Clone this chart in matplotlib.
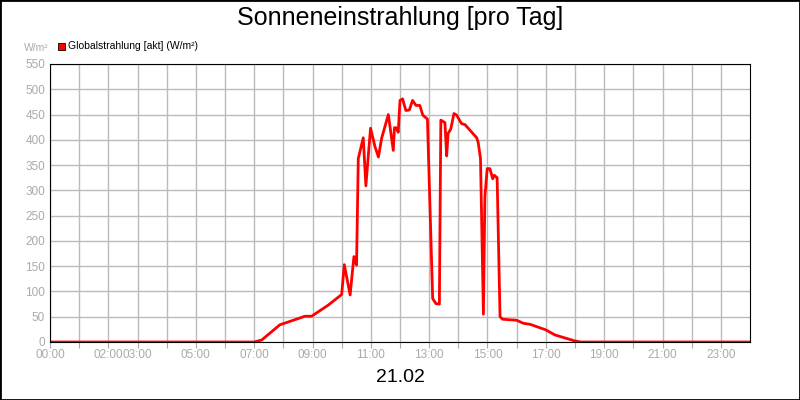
import matplotlib.pyplot as plt
from matplotlib.patches import Rectangle

plt.rcParams["font.family"] = ["Liberation Sans", "DejaVu Sans"]

# Stunden des Tages und Globalstrahlung (W/m²)
stunden = [0, 7.0, 7.26, 7.88, 8.34, 8.74, 8.97, 9.54, 10.0, 10.09, 10.29, 10.42, 10.51,
           10.57, 10.74, 10.83, 10.99, 11.14, 11.26, 11.37, 11.6, 11.77, 11.81, 11.86, 11.94,
           12.0, 12.09, 12.2, 12.32, 12.43, 12.55, 12.68, 12.78, 12.94, 13.12, 13.23, 13.35,
           13.4, 13.54, 13.6, 13.65, 13.74, 13.85, 13.94, 14.11, 14.23, 14.63, 14.68, 14.76,
           14.86, 14.91, 14.99, 15.08, 15.18, 15.23, 15.33, 15.43, 15.52, 16.0, 16.23, 16.46,
           17.0, 17.31, 18.0, 18.2, 24.0]
strahlung = [0, 0, 4, 34, 43, 51, 51, 73, 94, 153, 93, 169, 152,
             363, 404, 309, 423, 387, 366, 403, 450, 379, 424, 424, 415,
             478, 481, 458, 459, 478, 468, 468, 449, 441, 86, 76, 75,
             439, 434, 368, 413, 421, 452, 449, 432, 430, 404, 395, 363,
             55, 287, 343, 343, 323, 330, 325, 50, 45, 43, 37, 35,
             24, 14, 2, 0, 0]

tick_pos = [0, 2, 3, 5, 7, 9, 11, 13, 15, 17, 19, 21, 23]
tick_labels = ["00:00", "02:00", "03:00", "05:00", "07:00", "09:00", "11:00",
               "13:00", "15:00", "17:00", "19:00", "21:00", "23:00"]

fig = plt.figure(figsize=(8, 4), dpi=100)
fig.patches.append(Rectangle((0, 0), 1, 1, transform=fig.transFigure, fill=False,
                             edgecolor="black", linewidth=2))
ax = fig.add_axes([0.0625, 0.145, 0.875, 0.695])

ax.plot(stunden, strahlung, color="red", linewidth=2)
ax.set_xlim(0, 24)
ax.set_ylim(0, 550)
ax.set_yticks(range(0, 551, 50))
ax.set_xticks(range(0, 24))
ax.set_xticklabels([""] * 24)
ax.grid(True, color="#bbbbbb", linewidth=1)
ax.tick_params(axis="both", colors="#aaaaaa", labelsize=8.5, length=4)
ax.tick_params(axis="y", length=0)
for p, l in zip(tick_pos, tick_labels):
    ax.text(p, -14, l, ha="center", va="top", fontsize=8.5, color="#aaaaaa")
for s in ax.spines.values():
    s.set_color("black")
ax.set_axisbelow(True)

fig.text(0.5, 0.955, "Sonneneinstrahlung [pro Tag]", ha="center", va="center", fontsize=18)
fig.text(0.5, 0.055, "21.02", ha="center", va="center", fontsize=14)
fig.text(0.03, 0.88, "W/m²", fontsize=7.5, color="#aaaaaa", va="center")
fig.patches.append(Rectangle((0.0725, 0.874), 0.009, 0.018, transform=fig.transFigure,
                             facecolor="red", edgecolor="black", linewidth=0.6))
fig.text(0.085, 0.884, "Globalstrahlung [akt] (W/m²)", fontsize=7.5, va="center")

fig.savefig("out.png", dpi=100)
